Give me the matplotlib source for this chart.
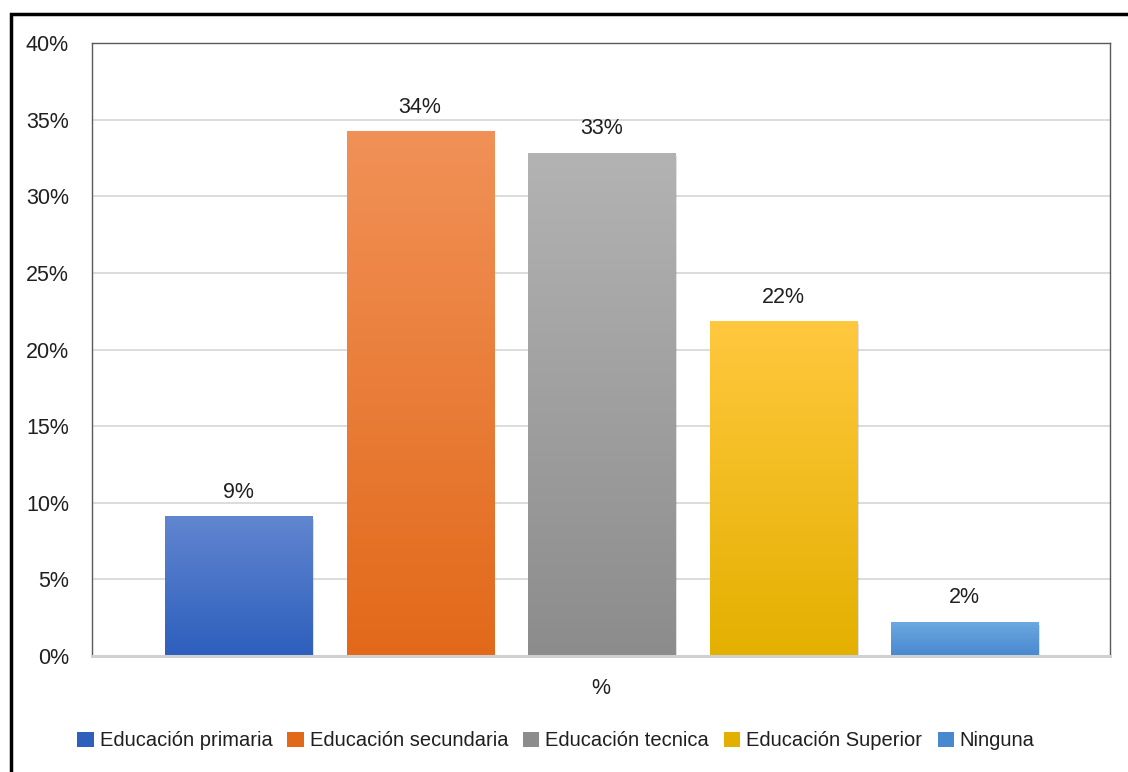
import numpy as np
import matplotlib
matplotlib.use('Agg')
import matplotlib.pyplot as plt
from matplotlib.patches import Rectangle, Patch
from matplotlib.colors import LinearSegmentedColormap
from matplotlib.ticker import PercentFormatter, MultipleLocator

plt.rcParams['font.family'] = ['Liberation Sans', 'DejaVu Sans']

categorias = ['Educación primaria', 'Educación secundaria', 'Educación tecnica',
              'Educación Superior', 'Ninguna']
valores = [0.091, 0.342, 0.328, 0.218, 0.022]  # proporción por nivel educativo
# colores de degradado (arriba, abajo)
colores = [('#6186D0', '#2D5FBD'),
           ('#F19157', '#E2691A'),
           ('#B3B3B3', '#8C8C8C'),
           ('#FFC83F', '#E4B000'),
           ('#6CA8E0', '#4788CF')]

fig = plt.figure(figsize=(11.28, 7.72), dpi=100)
ax = fig.add_axes([92 / 1128, 1 - 656 / 772, (1110 - 92) / 1128, (656 - 43) / 772])

x = np.arange(len(categorias))
ancho = 0.81
barras = ax.bar(x, valores, width=ancho, color='none', zorder=3)

# relleno con degradado vertical y sombra suave
for b, (c_top, c_bot) in zip(barras, colores):
    x0, w, h = b.get_x(), b.get_width(), b.get_height()
    sombra = Rectangle((x0 + 0.01, -0.0015), w, h, facecolor='#000000', alpha=0.12,
                       edgecolor='none', zorder=2)
    ax.add_patch(sombra)
    cmap = LinearSegmentedColormap.from_list('g', [c_bot, c_top])
    grad = np.linspace(0, 1, 256).reshape(-1, 1)
    ax.imshow(grad, extent=[x0, x0 + w, 0, h], origin='lower', cmap=cmap,
              aspect='auto', zorder=3)

for b, v in zip(barras, valores):
    ax.annotate(f'{v:.0%}', (b.get_x() + b.get_width() / 2, v), xytext=(0, 10),
                textcoords='offset points', ha='center', va='bottom',
                fontsize=15.5, color='#1F1F1F')

ax.set_xlim(-0.807, 4.80)
ax.set_ylim(0, 0.40)
ax.yaxis.set_major_locator(MultipleLocator(0.05))
ax.yaxis.set_major_formatter(PercentFormatter(1.0, decimals=0))
ax.set_xticks([])
ax.tick_params(axis='y', length=0, pad=16.5, labelsize=15.5, labelcolor='#1F1F1F')
ax.grid(axis='y', color='#D9D9D9', linewidth=1.3, zorder=0)
ax.set_axisbelow(True)

for lado in ['top', 'left', 'right']:
    ax.spines[lado].set_color('#595959')
    ax.spines[lado].set_linewidth(1.0)
ax.spines['bottom'].set_color('#D0D0D0')
ax.spines['bottom'].set_linewidth(2.2)
ax.spines['bottom'].set_zorder(4)

ax.set_xlabel('%', fontsize=15.5, color='#1F1F1F', labelpad=16)

# leyenda inferior
handles = [Patch(facecolor=c[1], edgecolor='none') for c in colores]
fig.legend(handles, categorias, loc='center', bbox_to_anchor=(556 / 1128, 1 - 741 / 772),
           ncol=5, frameon=False, fontsize=14.5, handlelength=0.8, handleheight=0.8,
           handletextpad=0.3, columnspacing=0.75, labelcolor='#1F1F1F')

# marco del gráfico
fig.add_artist(Rectangle((11 / 1128, -0.1), 1.2, 1 - 14 / 772 + 0.1,
                         transform=fig.transFigure, facecolor='none',
                         edgecolor='black', linewidth=2.5))

fig.savefig('out.png', dpi=100)
